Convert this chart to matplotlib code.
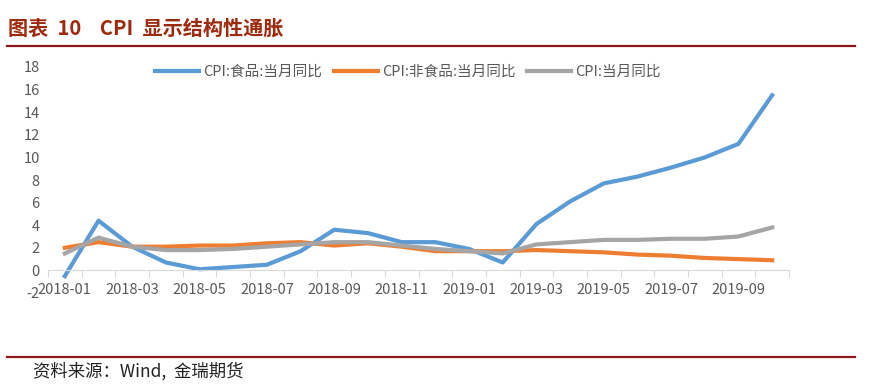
import matplotlib
matplotlib.use("Agg")
import matplotlib.pyplot as plt
from matplotlib.lines import Line2D

plt.rcParams['font.family'] = ['Noto Sans CJK SC', 'DejaVu Sans']

months = ["2018-01", "2018-02", "2018-03", "2018-04", "2018-05", "2018-06",
          "2018-07", "2018-08", "2018-09", "2018-10", "2018-11", "2018-12",
          "2019-01", "2019-02", "2019-03", "2019-04", "2019-05", "2019-06",
          "2019-07", "2019-08", "2019-09", "2019-10"]
food = [-0.5, 4.4, 2.1, 0.7, 0.1, 0.3, 0.5, 1.7, 3.6, 3.3, 2.5, 2.5,
        1.9, 0.7, 4.1, 6.1, 7.7, 8.3, 9.1, 10.0, 11.2, 15.5]
nonfood = [2.0, 2.5, 2.1, 2.1, 2.2, 2.2, 2.4, 2.5, 2.2, 2.4, 2.1, 1.7,
           1.7, 1.7, 1.8, 1.7, 1.6, 1.4, 1.3, 1.1, 1.0, 0.9]
cpi = [1.5, 2.9, 2.1, 1.8, 1.8, 1.9, 2.1, 2.3, 2.5, 2.5, 2.2, 1.9,
       1.7, 1.5, 2.3, 2.5, 2.7, 2.7, 2.8, 2.8, 3.0, 3.8]
labels = ["CPI:食品:当月同比", "CPI:非食品:当月同比", "CPI:当月同比"]
colors = ["#5B9BD5", "#ED7D31", "#A5A5A5"]

fig = plt.figure(figsize=(8.71, 3.86), dpi=100)
ax = fig.add_axes([48 / 871, 1 - 293 / 386, 741 / 871, 226 / 386])

x = list(range(len(months)))
for series, lab, col in zip([food, nonfood, cpi], labels, colors):
    ax.plot(x, series, color=col, lw=3.0, label=lab, solid_joinstyle="round")

ax.set_xlim(-0.5, len(months) - 0.5)
ax.set_ylim(-2, 18)
ax.set_yticks(range(-2, 19, 2))
ax.set_yticklabels([str(v) for v in range(-2, 19, 2)])

for s in ["top", "right", "left"]:
    ax.spines[s].set_visible(False)
ax.spines["bottom"].set_position(("data", 0))
ax.spines["bottom"].set_color("#D9D9D9")

ax.set_xticks([i - 0.5 for i in range(len(months) + 1)])
ax.set_xticklabels([])
ax.set_xticks(x[::2], minor=True)
ax.set_xticklabels(months[::2], minor=True)
ax.tick_params(axis="x", which="major", length=5, color="#D9D9D9", direction="out")
ax.tick_params(axis="x", which="minor", length=0, pad=9, labelsize=10.5, labelcolor="#595959")
ax.tick_params(axis="y", length=0, pad=6, labelsize=10.5, labelcolor="#595959")

handles = [Line2D([], [], color=c, lw=3.0) for c in colors]
fig.legend(handles, labels, loc="center", bbox_to_anchor=(408 / 871, 1 - 72 / 386),
           ncol=3, frameon=False, fontsize=10.5, handlelength=3.0, handletextpad=0.3,
           columnspacing=0.8, labelcolor="#595959")

title_color = "#9E2A0E"
fig.text(8 / 871, 1 - 28 / 386, "图表  10    CPI  显示结构性通胀", fontsize=14.5,
         fontweight="bold", color=title_color, va="center", ha="left")
fig.add_artist(Line2D([7 / 871, 855 / 871], [1 - 46 / 386, 1 - 46 / 386],
                      color="#8B1A1A", lw=1.6))
fig.add_artist(Line2D([7 / 871, 855 / 871], [1 - 357 / 386, 1 - 357 / 386],
                      color="#8B1A1A", lw=1.6))
fig.text(33 / 871, 1 - 371 / 386, "资料来源：Wind,  金瑞期货", fontsize=12.5,
         color="#222222", va="center", ha="left")

fig.savefig("out.png", dpi=100)
